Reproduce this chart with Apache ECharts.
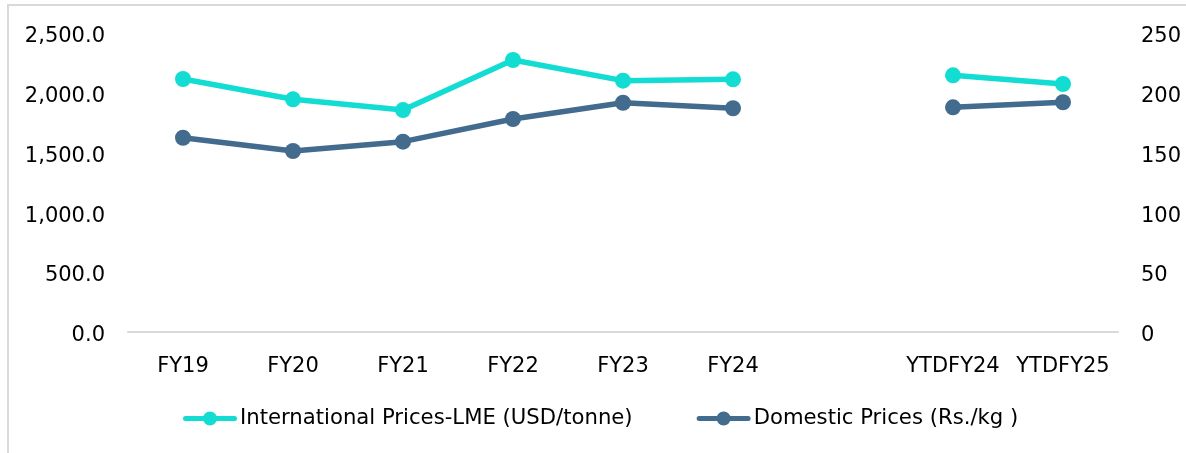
<!DOCTYPE html>
<html>
<head>
<meta charset="utf-8">
<script src="https://cdn.jsdelivr.net/npm/echarts@6/dist/echarts.min.js"></script>
<style>html,body{margin:0;padding:0;background:#fff}#c{width:1186px;height:453px}</style>
</head>
<body>
<div id="c"></div>
<script>
const categories = ['FY19','FY20','FY21','FY22','FY23','FY24','','YTDFY24','YTDFY25'];
const intlPrices = [2119, 1949, 1859, 2278, 2105, 2116, null, 2150, 2077];
const domPrices = [162.7, 151.6, 159.4, 178.4, 192.0, 187.4, null, 188.2, 192.4];
const seriesNames = ['International Prices-LME (USD/tonne)', 'Domestic Prices (Rs./kg )'];

const FONT = 'DejaVu Sans';
const FS = 21;
const LEGEND_ICON = 'path://M2.5,4.5 L51.5,4.5 A2.5,2.5 0 0 1 51.5,9.5 L2.5,9.5 A2.5,2.5 0 0 1 2.5,4.5 Z M27,0 A7,7 0 1 1 27,14 A7,7 0 1 1 27,0 Z';
const yRich = {a: {fontFamily: FONT, fontSize: FS, color: '#000', padding: [7, 0, 0, 0]}};
const chart = echarts.init(document.getElementById('c'), null, {renderer: 'canvas'});
chart.setOption({
  animation: false,
  backgroundColor: '#fff',
  textStyle: {fontFamily: FONT},
  graphic: [{
    type: 'rect', shape: {x: 8, y: 5, width: 1200, height: 470},
    style: {fill: 'none', stroke: '#d9d9d9', lineWidth: 2}, silent: true, z: -1
  }],
  grid: {left: 128, right: 68, top: 33.5, bottom: 121},
  legend: {
    bottom: 19, left: 178,
    itemWidth: 54, itemHeight: 14, itemGap: 64,
    textStyle: {fontFamily: FONT, fontSize: 21.2, color: '#000', padding: [0, 0, 0, -2]},
    data: seriesNames.map(n => ({name: n, icon: LEGEND_ICON}))
  },
  xAxis: {
    type: 'category', data: categories,
    axisLine: {lineStyle: {color: '#d9d9d9', width: 2}},
    axisTick: {show: false},
    axisLabel: {fontFamily: FONT, fontSize: FS, color: '#000', margin: 24, interval: 0}
  },
  yAxis: [{
    type: 'value', min: 0, max: 2500, interval: 500,
    splitLine: {show: false}, axisLine: {show: false}, axisTick: {show: false},
    axisLabel: {margin: 23, rich: yRich,
      formatter: v => '{a|' + v.toLocaleString('en-US', {minimumFractionDigits: 1, maximumFractionDigits: 1}) + '}'}
  }, {
    type: 'value', min: 0, max: 250, interval: 50,
    splitLine: {show: false}, axisLine: {show: false}, axisTick: {show: false},
    axisLabel: {margin: 23, rich: yRich, formatter: v => '{a|' + v + '}'}
  }],
  series: [{
    name: seriesNames[0], type: 'line', yAxisIndex: 0, data: intlPrices,
    color: '#13DCD2', symbol: 'circle', symbolSize: 16,
    lineStyle: {width: 5.5}, connectNulls: false
  }, {
    name: seriesNames[1], type: 'line', yAxisIndex: 1, data: domPrices,
    color: '#426B8E', symbol: 'circle', symbolSize: 16,
    lineStyle: {width: 5.5}, connectNulls: false
  }]
});
</script>
</body>
</html>
